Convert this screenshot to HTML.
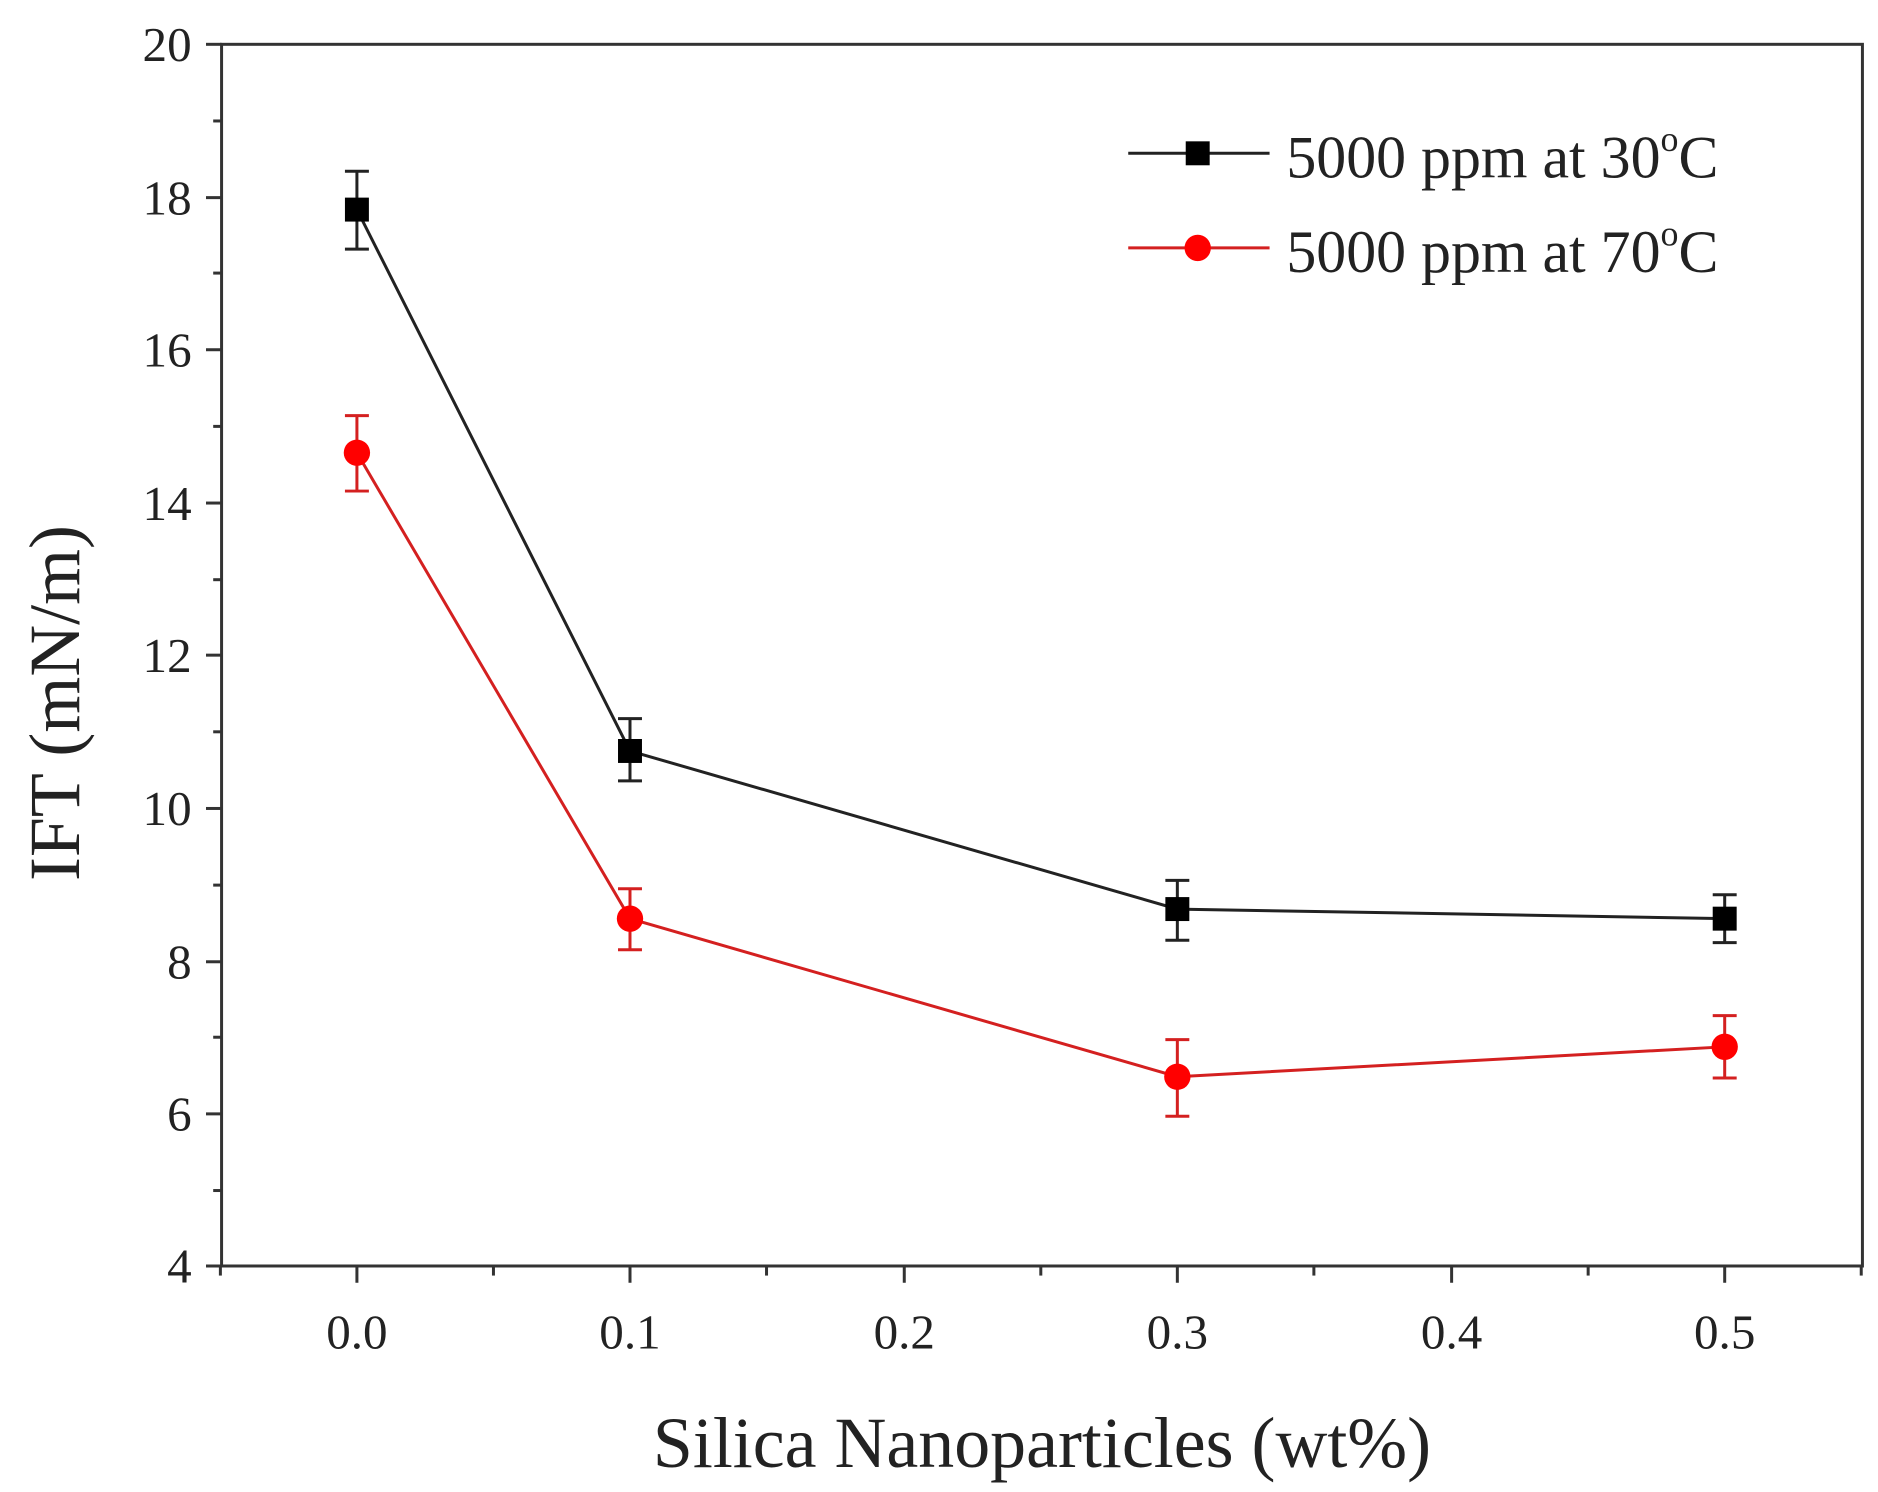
<!DOCTYPE html>
<html><head><style>html,body{margin:0;padding:0;background:#fff}svg{display:block}</style></head>
<body>
<svg width="1878" height="1492" viewBox="0 0 1568 1245.7" preserveAspectRatio="none" font-family="Liberation Serif, serif" fill="#222">
<rect x="185" y="37" width="1370" height="1020" fill="none" stroke="#333" stroke-width="2.5"/>
<g stroke="#333" stroke-width="2.5">
<line x1="172" y1="37" x2="185" y2="37"/><line x1="178" y1="101" x2="185" y2="101"/>
<line x1="172" y1="165" x2="185" y2="165"/><line x1="178" y1="228" x2="185" y2="228"/>
<line x1="172" y1="292" x2="185" y2="292"/><line x1="178" y1="356" x2="185" y2="356"/>
<line x1="172" y1="420" x2="185" y2="420"/><line x1="178" y1="484" x2="185" y2="484"/>
<line x1="172" y1="547" x2="185" y2="547"/><line x1="178" y1="611" x2="185" y2="611"/>
<line x1="172" y1="675" x2="185" y2="675"/><line x1="178" y1="739" x2="185" y2="739"/>
<line x1="172" y1="803" x2="185" y2="803"/><line x1="178" y1="866" x2="185" y2="866"/>
<line x1="172" y1="930" x2="185" y2="930"/><line x1="178" y1="994" x2="185" y2="994"/>
<line x1="172" y1="1057" x2="185" y2="1057"/>
<line x1="298" y1="1057" x2="298" y2="1071"/><line x1="526" y1="1057" x2="526" y2="1071"/>
<line x1="755" y1="1057" x2="755" y2="1071"/><line x1="983" y1="1057" x2="983" y2="1071"/>
<line x1="1212" y1="1057" x2="1212" y2="1071"/><line x1="1440" y1="1057" x2="1440" y2="1071"/>
<line x1="184" y1="1057" x2="184" y2="1065"/><line x1="412" y1="1057" x2="412" y2="1065"/>
<line x1="640" y1="1057" x2="640" y2="1065"/><line x1="869" y1="1057" x2="869" y2="1065"/>
<line x1="1097" y1="1057" x2="1097" y2="1065"/><line x1="1326" y1="1057" x2="1326" y2="1065"/>
<line x1="1554" y1="1057" x2="1554" y2="1065"/>
</g>
<g font-size="41" text-anchor="end">
<text x="160" y="51">20</text><text x="160" y="179">18</text><text x="160" y="306">16</text>
<text x="160" y="434">14</text><text x="160" y="561">12</text><text x="160" y="689">10</text>
<text x="160" y="817">8</text><text x="160" y="944">6</text><text x="160" y="1071">4</text>
</g>
<g font-size="41" text-anchor="middle">
<text x="298" y="1126">0.0</text><text x="526" y="1126">0.1</text><text x="755" y="1126">0.2</text>
<text x="983" y="1126">0.3</text><text x="1212" y="1126">0.4</text><text x="1440" y="1126">0.5</text>
</g>
<text x="870" y="1225" font-size="60" text-anchor="middle">Silica Nanoparticles (wt%)</text>
<text transform="translate(66,587) rotate(-90)" font-size="60" text-anchor="middle">IFT (mN/m)</text>
<g stroke="#222" stroke-width="2.5" fill="none">
<polyline points="298,175 526,627 983,759 1440,767"/>
<path d="M298,143V208M288,143H308M288,208H308M526,600V652M516,600H536M516,652H536M983,735V785M973,735H993M973,785H993M1440,747V787M1430,747H1450M1430,787H1450"/>
</g>
<g fill="#000">
<rect x="288" y="165" width="20" height="20"/><rect x="516" y="617" width="20" height="20"/>
<rect x="973" y="749" width="20" height="20"/><rect x="1430" y="757" width="20" height="20"/>
</g>
<g stroke="#d42020" stroke-width="2.5" fill="none">
<polyline points="298,378 526,767 983,899 1440,874"/>
<path d="M298,347V410M288,347H308M288,410H308M526,742V793M516,742H536M516,793H536M983,868V932M973,868H993M973,932H993M1440,848V900M1430,848H1450M1430,900H1450"/>
</g>
<g fill="#f00">
<circle cx="298" cy="378" r="11"/><circle cx="526" cy="767" r="11"/>
<circle cx="983" cy="899" r="11"/><circle cx="1440" cy="874" r="11"/>
</g>
<line x1="942" y1="128" x2="1060" y2="128" stroke="#222" stroke-width="2.5"/>
<rect x="990" y="118" width="20" height="20" fill="#000"/>
<line x1="942" y1="207" x2="1060" y2="207" stroke="#d42020" stroke-width="2.5"/>
<circle cx="1000" cy="207" r="11" fill="#f00"/>
<g font-size="50">
<text x="1074" y="148">5000 ppm at 30<tspan font-size="30" dy="-22">o</tspan><tspan dy="22">C</tspan></text>
<text x="1074" y="227">5000 ppm at 70<tspan font-size="30" dy="-22">o</tspan><tspan dy="22">C</tspan></text>
</g>
</svg>
</body></html>
